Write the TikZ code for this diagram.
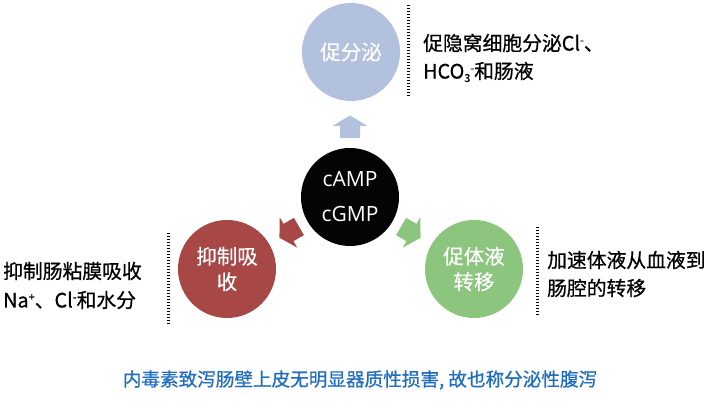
\documentclass[tikz,border=0pt]{standalone}
\usepackage{fontspec}
\usetikzlibrary{calc}
\setmainfont{Noto Sans CJK SC}[FakeBold=0.7]
\newfontfamily\cjklight{Noto Sans CJK SC}[FakeBold=0.3]
\newfontfamily\latinfont{Open Sans}
\definecolor{cblue}{HTML}{B2C1DD}
\definecolor{cred}{HTML}{A84846}
\definecolor{cgreen}{HTML}{8CC67E}
\definecolor{cblack}{HTML}{040404}
\definecolor{ctext}{HTML}{1F6DC0}
\newcommand\mysub[1]{\raisebox{-3.5pt}{\fontsize{11}{11}\selectfont #1}}
\newcommand\mysup[1]{\raisebox{6.5pt}{\fontsize{11}{11}\selectfont #1}}
\tikzset{
  bubble/.style={circle, minimum size=98pt, inner sep=0pt, text=white, align=center,
     font=\cjklight\fontsize{20.5}{25.5}\selectfont},
  sidetext/.style={anchor=west, inner sep=0pt, text=black, font=\fontsize{19.8}{19.8}\selectfont},
  dotline/.style={line width=3pt, dash pattern=on 1.5pt off 1.5pt, color=black},
}
\begin{document}
\begin{tikzpicture}[x=1pt,y=1pt]
\useasboundingbox (0,0) rectangle (710,411);
% circles
\node[bubble, fill=cblack, font=\latinfont\fontsize{21}{35}\selectfont] (core) at (350,214) {cAMP\\cGMP};
\node[bubble, fill=cblue] (top) at (351,359) {促分泌};
\node[bubble, fill=cred] (left) at (227,142) {抑制吸\\收};
\node[bubble, fill=cgreen] (right) at (474,142) {促体液\\转移};
% block arrows
\foreach \ang/\col in {90/cblue, 210/cred, 330/cgreen}{
  \fill[\col, shift={($(core)+(\ang:70)$)}, rotate=\ang]
    (-11,-10) -- (1,-10) -- (1,-17.5) -- (11.5,0) -- (1,17.5) -- (1,10) -- (-11,10) -- cycle;
}
% dotted separators
\coordinate (t1) at (408,406); \coordinate (t2) at (408,313);
\coordinate (l1) at (168,178); \coordinate (l2) at (168,86);
\coordinate (r1) at (537,184); \coordinate (r2) at (537,94);
\draw[dotline] (t1) -- (t2);
\draw[dotline] (l1) -- (l2);
\draw[dotline] (r1) -- (r2);
% side texts
\node[sidetext] (tt1) at (423,368) {促隐窝细胞分泌Cl\mysup{-}、};
\node[sidetext] (tt2) at (423,339) {HCO\mysub{3}\mysup{-}和肠液};
\node[sidetext] (lt1) at (3,140) {抑制肠粘膜吸收};
\node[sidetext] (lt2) at (3,111) {Na\mysup{+}、Cl\mysup{-}和水分};
\node[sidetext] (rt1) at (547,151) {加速体液从血液到};
\node[sidetext] (rt2) at (547,123) {肠腔的转移};
% bottom caption
\node[inner sep=0pt, text=ctext, font=\fontsize{18.6}{18.6}\selectfont] (cap) at (360,31) {内毒素致泻肠壁上皮无明显器质性损害, 故也称分泌性腹泻};
\end{tikzpicture}
\end{document}
